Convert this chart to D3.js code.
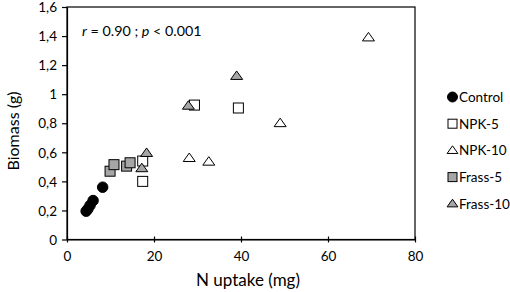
<!DOCTYPE html>
<html>
<head>
<meta charset="utf-8">
<script src="https://cdn.jsdelivr.net/npm/d3@7"></script>
<style>
  body { margin: 0; background: #fff; }
  svg text { font-family: Lato, "Open Sans", sans-serif; fill: #000; }
</style>
</head>
<body>
<div id="chart"></div>
<script>
// values: [N uptake (mg), biomass (g)]
const control = [[4.4, 0.195], [4.8, 0.21], [5.3, 0.235], [6.0, 0.268], [8.2, 0.36]];
const npk5 = [[17.4, 0.54], [17.4, 0.40], [29.3, 0.925], [39.4, 0.905]];
const npk10 = [[28.1, 0.56], [32.6, 0.535], [49.0, 0.80], [69.3, 1.39]];
const frass5 = [[9.9, 0.47], [10.8, 0.515], [13.7, 0.505], [14.5, 0.528]];
const frass10 = [[17.2, 0.49], [18.3, 0.595], [27.9, 0.92], [39.0, 1.125]];

const xTicks = [0, 20, 40, 60, 80];
const yTicks = [0, 0.2, 0.4, 0.6, 0.8, 1, 1.2, 1.4, 1.6];

const series = [
    { name: "Control", data: control, shape: "circle", fill: "#000" },
    { name: "NPK-5", data: npk5, shape: "square", fill: "#fff" },
    { name: "NPK-10", data: npk10, shape: "triangle", fill: "#fff" },
    { name: "Frass-5", data: frass5, shape: "square", fill: "#a6a6a6" },
    { name: "Frass-10", data: frass10, shape: "triangle", fill: "#a6a6a6" }
];

const W = 510, H = 292;
const plot = { left: 67, right: 415, top: 7, bottom: 239.5 };

const svg = d3.select("#chart").append("svg")
    .attr("width", W)
    .attr("height", H);

const x = d3.scaleLinear().domain([0, 80]).range([plot.left, plot.right]);
const y = d3.scaleLinear().domain([0, 1.6]).range([plot.bottom, plot.top]);

// frame
svg.append("rect")
    .attr("x", plot.left).attr("y", plot.top)
    .attr("width", plot.right - plot.left).attr("height", plot.bottom - plot.top)
    .attr("fill", "none").attr("stroke", "#000").attr("stroke-width", 1.2);

// y axis
const yAxis = svg.append("g")
    .attr("transform", `translate(${plot.left},0)`)
    .call(d3.axisLeft(y).tickValues(yTicks).tickSize(5).tickSizeOuter(0)
        .tickFormat(d => String(d).replace(".", ",")));
yAxis.select(".domain").attr("stroke-width", 1.2);
yAxis.selectAll(".tick line").attr("stroke-width", 1.2);
yAxis.selectAll("text").attr("font-size", 13.5).attr("x", -10).attr("dy", "0.35em")
    .style("font-family", "Lato, sans-serif");

// x axis, ticks cross the line
const xAxis = svg.append("g")
    .attr("transform", `translate(0,${plot.bottom})`)
    .call(d3.axisBottom(x).tickValues(xTicks).tickSize(3).tickSizeOuter(0));
xAxis.select(".domain").attr("stroke-width", 1.2);
xAxis.selectAll(".tick line").attr("y1", -3).attr("y2", 3).attr("stroke-width", 1.2);
xAxis.selectAll("text").attr("font-size", 13.5).attr("y", 12).style("font-family", "Lato, sans-serif");

// axis titles
svg.append("text")
    .attr("x", 248).attr("y", 286)
    .attr("text-anchor", "middle")
    .attr("font-size", 17)
    .text("N uptake (mg)");

svg.append("text")
    .attr("transform", "translate(19,131) rotate(-90)")
    .attr("text-anchor", "middle")
    .attr("font-size", 16)
    .text("Biomass (g)");

// annotation
const note = svg.append("text")
    .attr("x", 82).attr("y", 36)
    .attr("font-size", 14.3);
note.append("tspan").attr("font-style", "italic").text("r");
note.append("tspan").text(" = 0.90 ; ");
note.append("tspan").attr("font-style", "italic").text("p");
note.append("tspan").text(" < 0.001");

function drawMarker(g, shape, fill, cx, cy, s) {
    if (shape === "circle") {
        g.append("circle").attr("cx", cx).attr("cy", cy).attr("r", s / 2)
            .attr("fill", fill).attr("stroke", "#000").attr("stroke-width", 1);
    } else if (shape === "square") {
        g.append("rect").attr("x", cx - s / 2).attr("y", cy - s / 2)
            .attr("width", s).attr("height", s)
            .attr("fill", fill).attr("stroke", "#000").attr("stroke-width", 1);
    } else {
        const h = s * 0.85;
        g.append("path")
            .attr("d", `M${cx},${cy - h * 0.6}L${cx + s * 0.6},${cy + h * 0.4}L${cx - s * 0.6},${cy + h * 0.4}Z`)
            .attr("fill", fill).attr("stroke", "#000").attr("stroke-width", 1);
    }
}

const pts = svg.append("g");
series.forEach(s => {
    s.data.forEach(d => drawMarker(pts, s.shape, s.fill, x(d[0]), y(d[1]), s.shape === "circle" ? 10.5 : 10));
});

// legend
const legend = svg.append("g");
series.forEach((s, i) => {
    const ly = 97 + i * 26.7;
    drawMarker(legend, s.shape, s.fill, 452.5, ly, s.shape === "circle" ? 10 : 9);
    legend.append("text")
        .attr("x", 459).attr("y", ly + 5)
        .attr("font-size", 13.5)
        .text(s.name);
});
</script>
</body>
</html>
